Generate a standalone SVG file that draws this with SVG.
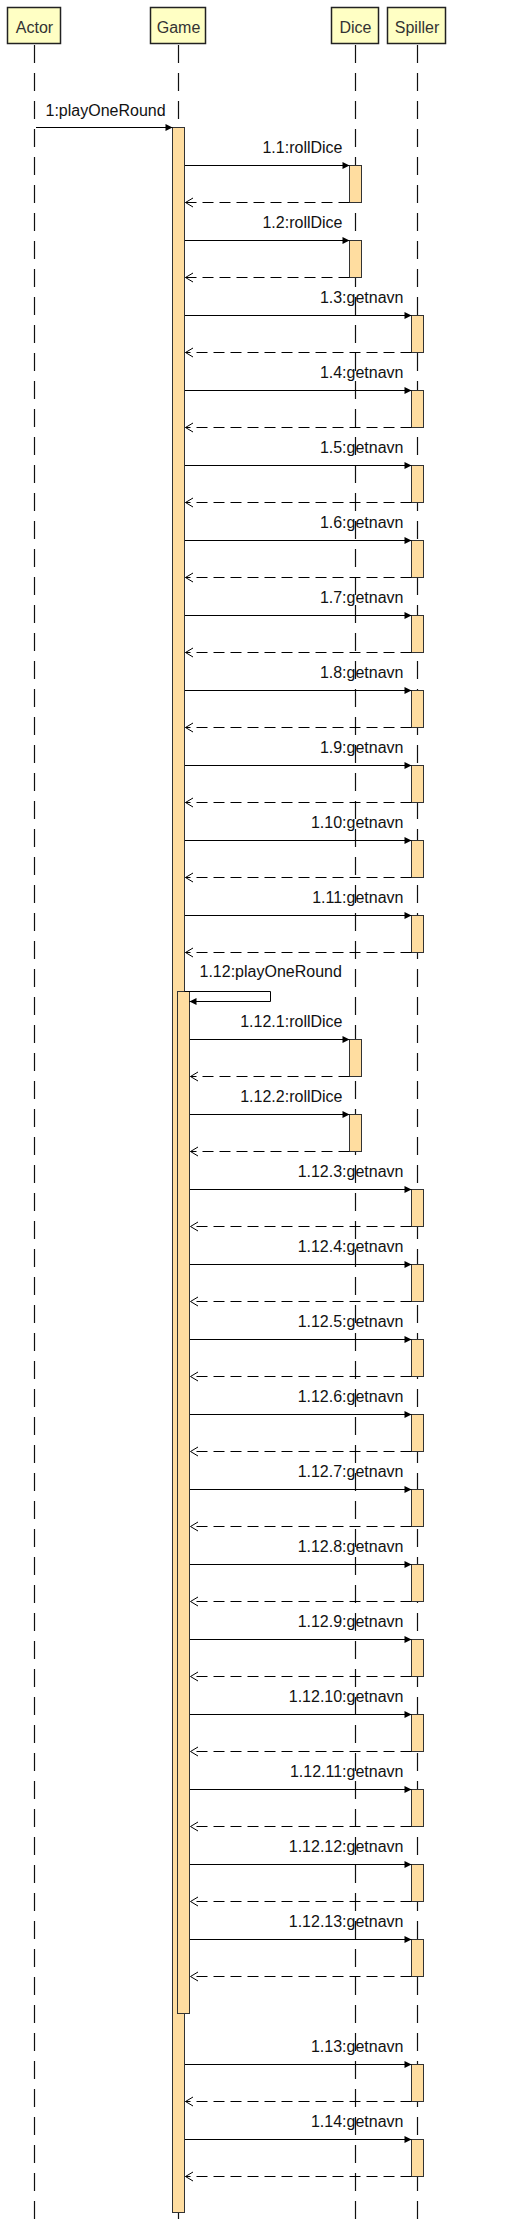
<svg xmlns="http://www.w3.org/2000/svg" width="514" height="2229" viewBox="0 0 514 2229">
<style>
.hdr{fill:#FFFFC4;stroke:#222;stroke-width:1.5}
.hdrt{font-family:"Liberation Sans",Arial,sans-serif;font-size:16px;fill:#333;text-anchor:middle}
.life{stroke:#111;stroke-width:1.2;stroke-dasharray:18 10;fill:none}
.act{fill:#FFDDA0;stroke:#333;stroke-width:1}
.call{stroke:#000;stroke-width:1;fill:none;marker-end:url(#fill)}
.ret{stroke:#000;stroke-width:1;fill:none;stroke-dasharray:11 6;marker-end:url(#open)}
.lbl{font-family:"Liberation Sans",Arial,sans-serif;font-size:16px;fill:#111;text-anchor:end}
.lbls{font-family:"Liberation Sans",Arial,sans-serif;font-size:16px;fill:#111}
</style>
<defs>
<marker id="fill" markerUnits="userSpaceOnUse" markerWidth="8" markerHeight="8" refX="7" refY="3.5" orient="auto" overflow="visible"><path d="M0,0 L7,3.5 L0,7 z" fill="#000"/></marker>
<marker id="open" markerUnits="userSpaceOnUse" markerWidth="10" markerHeight="10" refX="7.5" refY="4.5" orient="auto" overflow="visible"><path d="M0,0 L7.5,4.5 L0,9" fill="none" stroke="#000" stroke-width="1"/></marker>
</defs>
<rect width="514" height="2229" fill="#fff"/>
<g id="actor">
<rect class="hdr" x="7.5" y="7.5" width="53" height="36"/>
<text class="hdrt" x="34.5" y="33">Actor</text>
<line class="life" x1="34.5" y1="45" x2="34.5" y2="2226"/>
</g>
<g id="game">
<rect class="hdr" x="150.5" y="7.5" width="55" height="36"/>
<text class="hdrt" x="178.5" y="33">Game</text>
<line class="life" x1="178.5" y1="45" x2="178.5" y2="2226"/>
<rect class="act" x="172.5" y="127.5" width="12" height="2085"/>
<rect class="act" x="177.5" y="991.5" width="12" height="1022"/>
</g>
<g id="dice">
<rect class="hdr" x="331.5" y="7.5" width="47" height="36"/>
<text class="hdrt" x="355.5" y="33">Dice</text>
<line class="life" x1="355.5" y1="45" x2="355.5" y2="2226"/>
<rect class="act" x="349.5" y="165.5" width="12" height="37"/>
<rect class="act" x="349.5" y="240.5" width="12" height="37"/>
<rect class="act" x="349.5" y="1039.5" width="12" height="37"/>
<rect class="act" x="349.5" y="1114.5" width="12" height="37"/>
</g>
<g id="spiller">
<rect class="hdr" x="387.5" y="7.5" width="58" height="36"/>
<text class="hdrt" x="417" y="33">Spiller</text>
<line class="life" x1="417.5" y1="45" x2="417.5" y2="2226"/>
<rect class="act" x="411.5" y="315.5" width="12" height="37"/>
<rect class="act" x="411.5" y="390.5" width="12" height="37"/>
<rect class="act" x="411.5" y="465.5" width="12" height="37"/>
<rect class="act" x="411.5" y="540.5" width="12" height="37"/>
<rect class="act" x="411.5" y="615.5" width="12" height="37"/>
<rect class="act" x="411.5" y="690.5" width="12" height="37"/>
<rect class="act" x="411.5" y="765.5" width="12" height="37"/>
<rect class="act" x="411.5" y="840.5" width="12" height="37"/>
<rect class="act" x="411.5" y="915.5" width="12" height="37"/>
<rect class="act" x="411.5" y="1189.5" width="12" height="37"/>
<rect class="act" x="411.5" y="1264.5" width="12" height="37"/>
<rect class="act" x="411.5" y="1339.5" width="12" height="37"/>
<rect class="act" x="411.5" y="1414.5" width="12" height="37"/>
<rect class="act" x="411.5" y="1489.5" width="12" height="37"/>
<rect class="act" x="411.5" y="1564.5" width="12" height="37"/>
<rect class="act" x="411.5" y="1639.5" width="12" height="37"/>
<rect class="act" x="411.5" y="1714.5" width="12" height="37"/>
<rect class="act" x="411.5" y="1789.5" width="12" height="37"/>
<rect class="act" x="411.5" y="1864.5" width="12" height="37"/>
<rect class="act" x="411.5" y="1939.5" width="12" height="37"/>
<rect class="act" x="411.5" y="2064.5" width="12" height="37"/>
<rect class="act" x="411.5" y="2139.5" width="12" height="37"/>
</g>
<g id="connectors">
<text class="lbls" x="45.5" y="116">1:playOneRound</text>
<line class="call" x1="36" y1="127.5" x2="172.5" y2="127.5"/>

<text class="lbl" x="342.5" y="153">1.1:rollDice</text>
<line class="call" x1="185" y1="165.5" x2="349.5" y2="165.5"/>
<line class="ret" x1="349.5" y1="202.5" x2="185.5" y2="202.5"/>
<text class="lbl" x="342.5" y="228">1.2:rollDice</text>
<line class="call" x1="185" y1="240.5" x2="349.5" y2="240.5"/>
<line class="ret" x1="349.5" y1="277.5" x2="185.5" y2="277.5"/>

<text class="lbl" x="403.5" y="303">1.3:getnavn</text>
<line class="call" x1="185" y1="315.5" x2="411.5" y2="315.5"/>
<line class="ret" x1="411.5" y1="352.5" x2="185.5" y2="352.5"/>
<text class="lbl" x="403.5" y="378">1.4:getnavn</text>
<line class="call" x1="185" y1="390.5" x2="411.5" y2="390.5"/>
<line class="ret" x1="411.5" y1="427.5" x2="185.5" y2="427.5"/>
<text class="lbl" x="403.5" y="453">1.5:getnavn</text>
<line class="call" x1="185" y1="465.5" x2="411.5" y2="465.5"/>
<line class="ret" x1="411.5" y1="502.5" x2="185.5" y2="502.5"/>
<text class="lbl" x="403.5" y="528">1.6:getnavn</text>
<line class="call" x1="185" y1="540.5" x2="411.5" y2="540.5"/>
<line class="ret" x1="411.5" y1="577.5" x2="185.5" y2="577.5"/>
<text class="lbl" x="403.5" y="603">1.7:getnavn</text>
<line class="call" x1="185" y1="615.5" x2="411.5" y2="615.5"/>
<line class="ret" x1="411.5" y1="652.5" x2="185.5" y2="652.5"/>
<text class="lbl" x="403.5" y="678">1.8:getnavn</text>
<line class="call" x1="185" y1="690.5" x2="411.5" y2="690.5"/>
<line class="ret" x1="411.5" y1="727.5" x2="185.5" y2="727.5"/>
<text class="lbl" x="403.5" y="753">1.9:getnavn</text>
<line class="call" x1="185" y1="765.5" x2="411.5" y2="765.5"/>
<line class="ret" x1="411.5" y1="802.5" x2="185.5" y2="802.5"/>
<text class="lbl" x="403.5" y="828">1.10:getnavn</text>
<line class="call" x1="185" y1="840.5" x2="411.5" y2="840.5"/>
<line class="ret" x1="411.5" y1="877.5" x2="185.5" y2="877.5"/>
<text class="lbl" x="403.5" y="903">1.11:getnavn</text>
<line class="call" x1="185" y1="915.5" x2="411.5" y2="915.5"/>
<line class="ret" x1="411.5" y1="952.5" x2="185.5" y2="952.5"/>

<text class="lbls" x="199.5" y="977">1.12:playOneRound</text>
<polyline class="call" points="184.5,991.5 270.5,991.5 270.5,1001.5 189.5,1001.5"/>

<text class="lbl" x="342.5" y="1027">1.12.1:rollDice</text>
<line class="call" x1="190" y1="1039.5" x2="349.5" y2="1039.5"/>
<line class="ret" x1="349.5" y1="1076.5" x2="190.5" y2="1076.5"/>
<text class="lbl" x="342.5" y="1102">1.12.2:rollDice</text>
<line class="call" x1="190" y1="1114.5" x2="349.5" y2="1114.5"/>
<line class="ret" x1="349.5" y1="1151.5" x2="190.5" y2="1151.5"/>

<text class="lbl" x="403.5" y="1177">1.12.3:getnavn</text>
<line class="call" x1="190" y1="1189.5" x2="411.5" y2="1189.5"/>
<line class="ret" x1="411.5" y1="1226.5" x2="190.5" y2="1226.5"/>
<text class="lbl" x="403.5" y="1252">1.12.4:getnavn</text>
<line class="call" x1="190" y1="1264.5" x2="411.5" y2="1264.5"/>
<line class="ret" x1="411.5" y1="1301.5" x2="190.5" y2="1301.5"/>
<text class="lbl" x="403.5" y="1327">1.12.5:getnavn</text>
<line class="call" x1="190" y1="1339.5" x2="411.5" y2="1339.5"/>
<line class="ret" x1="411.5" y1="1376.5" x2="190.5" y2="1376.5"/>
<text class="lbl" x="403.5" y="1402">1.12.6:getnavn</text>
<line class="call" x1="190" y1="1414.5" x2="411.5" y2="1414.5"/>
<line class="ret" x1="411.5" y1="1451.5" x2="190.5" y2="1451.5"/>
<text class="lbl" x="403.5" y="1477">1.12.7:getnavn</text>
<line class="call" x1="190" y1="1489.5" x2="411.5" y2="1489.5"/>
<line class="ret" x1="411.5" y1="1526.5" x2="190.5" y2="1526.5"/>
<text class="lbl" x="403.5" y="1552">1.12.8:getnavn</text>
<line class="call" x1="190" y1="1564.5" x2="411.5" y2="1564.5"/>
<line class="ret" x1="411.5" y1="1601.5" x2="190.5" y2="1601.5"/>
<text class="lbl" x="403.5" y="1627">1.12.9:getnavn</text>
<line class="call" x1="190" y1="1639.5" x2="411.5" y2="1639.5"/>
<line class="ret" x1="411.5" y1="1676.5" x2="190.5" y2="1676.5"/>
<text class="lbl" x="403.5" y="1702">1.12.10:getnavn</text>
<line class="call" x1="190" y1="1714.5" x2="411.5" y2="1714.5"/>
<line class="ret" x1="411.5" y1="1751.5" x2="190.5" y2="1751.5"/>
<text class="lbl" x="403.5" y="1777">1.12.11:getnavn</text>
<line class="call" x1="190" y1="1789.5" x2="411.5" y2="1789.5"/>
<line class="ret" x1="411.5" y1="1826.5" x2="190.5" y2="1826.5"/>
<text class="lbl" x="403.5" y="1852">1.12.12:getnavn</text>
<line class="call" x1="190" y1="1864.5" x2="411.5" y2="1864.5"/>
<line class="ret" x1="411.5" y1="1901.5" x2="190.5" y2="1901.5"/>
<text class="lbl" x="403.5" y="1927">1.12.13:getnavn</text>
<line class="call" x1="190" y1="1939.5" x2="411.5" y2="1939.5"/>
<line class="ret" x1="411.5" y1="1976.5" x2="190.5" y2="1976.5"/>

<text class="lbl" x="403.5" y="2052">1.13:getnavn</text>
<line class="call" x1="185" y1="2064.5" x2="411.5" y2="2064.5"/>
<line class="ret" x1="411.5" y1="2101.5" x2="185.5" y2="2101.5"/>
<text class="lbl" x="403.5" y="2127">1.14:getnavn</text>
<line class="call" x1="185" y1="2139.5" x2="411.5" y2="2139.5"/>
<line class="ret" x1="411.5" y1="2176.5" x2="185.5" y2="2176.5"/>
</g>
</svg>
